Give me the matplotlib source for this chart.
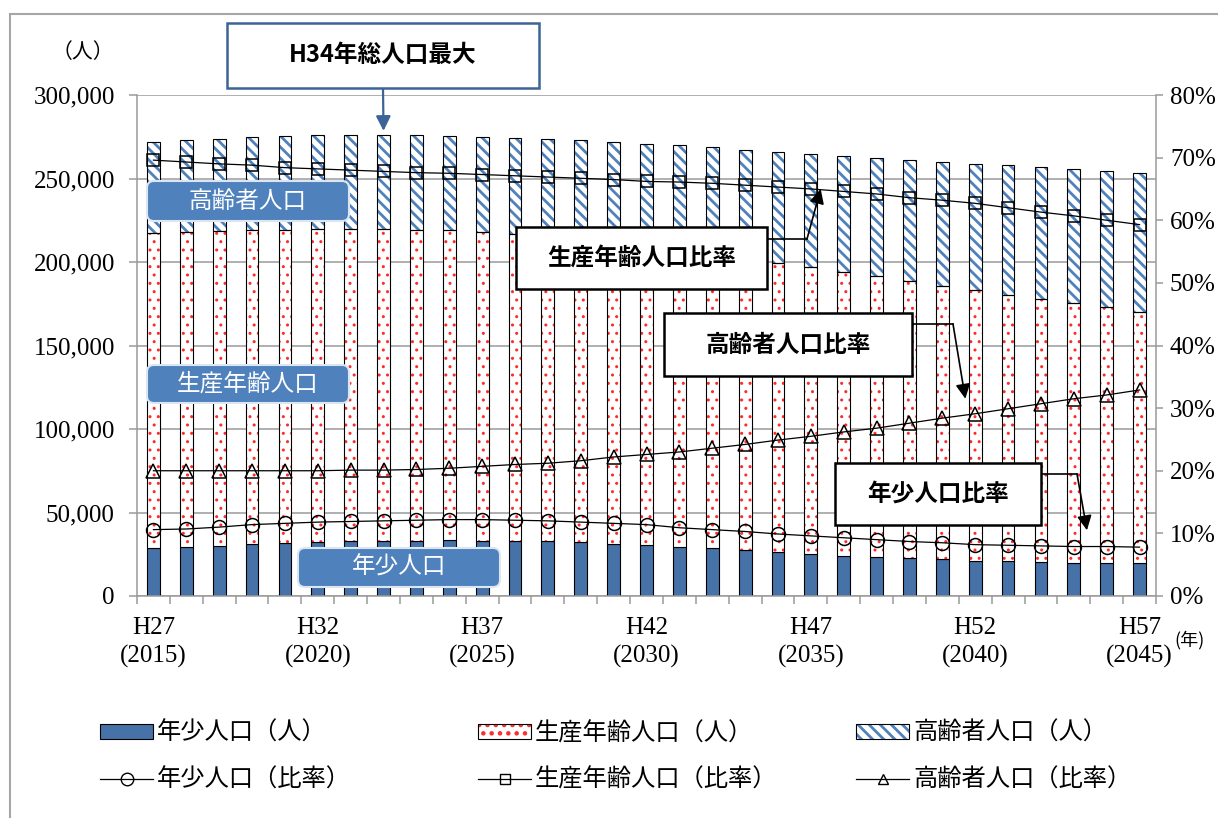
import matplotlib
matplotlib.use("Agg")
import matplotlib.pyplot as plt
from matplotlib.patches import Rectangle, FancyBboxPatch, Patch
from matplotlib.lines import Line2D
from matplotlib.transforms import IdentityTransform
from matplotlib.ticker import FixedLocator, FuncFormatter, MultipleLocator
import numpy as np

plt.rcParams['font.family'] = ['Noto Sans CJK JP', 'DejaVu Sans']
# thick stripes for the elderly bars; the dotted bars get a thinner pen below
plt.rcParams['hatch.linewidth'] = 2.0

# H27 (2015) .. H57 (2045)
heisei = list(range(27, 58))
years = list(range(2015, 2046))

# population by age group (persons)
young = [28800, 29600, 30200, 31200, 31800, 32600, 32800, 33000, 33200, 33400,
         33200, 33200, 32800, 32200, 31400, 30600, 29400, 28600, 27600, 26400,
         25200, 24200, 23400, 22600, 22000, 21200, 20800, 20400, 20000, 20000,
         19800]
working = [188600, 188400, 188400, 187800, 187600, 187200, 187000, 186800, 186200, 185600,
           184600, 183400, 182300, 181700, 180000, 178800, 178300, 176500, 174900, 173200,
           171800, 170000, 168200, 165800, 163800, 162200, 159600, 157200, 155300, 152900,
           150400]
elderly = [54200, 54800, 55200, 55800, 55800, 56000, 56100, 56200, 56500, 56400,
           57200, 57800, 58300, 58900, 60200, 61200, 62100, 63500, 64700, 66400,
           67800, 69400, 70800, 72800, 74200, 75400, 77400, 79000, 80100, 81700,
           83200]

# share of total population (%)
young_ratio = [10.6, 10.7, 11.0, 11.4, 11.6, 11.8, 11.9, 12.0, 12.1, 12.2,
               12.2, 12.1, 12.0, 11.8, 11.6, 11.4, 10.9, 10.6, 10.3, 9.9,
               9.6, 9.3, 9.0, 8.7, 8.5, 8.2, 8.1, 8.0, 7.9, 7.9, 7.8]
working_ratio = [69.6, 69.3, 69.0, 68.8, 68.4, 68.2, 68.0, 67.8, 67.6, 67.5,
                 67.3, 67.1, 66.9, 66.7, 66.5, 66.2, 66.1, 65.9, 65.6, 65.3,
                 65.0, 64.6, 64.2, 63.6, 63.2, 62.7, 62.0, 61.3, 60.7, 60.0, 59.3]
elderly_ratio = [20.0, 20.0, 20.0, 20.0, 20.0, 20.0, 20.1, 20.1, 20.2, 20.4,
                 20.7, 21.0, 21.2, 21.6, 22.2, 22.6, 23.0, 23.6, 24.2, 24.9,
                 25.5, 26.2, 26.8, 27.6, 28.4, 29.1, 29.9, 30.7, 31.5, 32.1, 32.9]

PEAK_INDEX = heisei.index(34)

C_YOUNG = '#4672A8'
C_STRIPE = '#4F81BD'
C_DOT = '#FF2A2A'
C_GRID = '#9A9A9A'
C_NAVY = '#3C6496'

W, H = 1218, 818
PX = IdentityTransform()


def thin_hatch(patches, w=1.0):
    # draw these patches' hatch with a thinner pen than the global one
    for p in patches:
        try:
            p.set_hatch_linewidth(w)
        except AttributeError:
            pass
        orig = p.draw

        def draw(renderer, _orig=orig):
            with plt.rc_context({'hatch.linewidth': w}):
                _orig(renderer)
        p.draw = draw


fig = plt.figure(figsize=(W / 100, H / 100), dpi=100)
ax = fig.add_axes([137 / W, (H - 596) / H, (1156 - 137) / W, (596 - 95) / H])
ax2 = ax.twinx()

x = np.arange(len(heisei))
young_a = np.array(young)
work_a = np.array(working)
eld_a = np.array(elderly)
bw = 0.39

# stacked bars
ax.bar(x, young_a, bw, color=C_YOUNG, edgecolor='black', linewidth=0.8, zorder=2)
b_work = ax.bar(x, work_a, bw, bottom=young_a, facecolor='white', edgecolor=C_DOT,
                hatch='..', linewidth=0, zorder=2)
thin_hatch(b_work, 1.0)
ax.bar(x, work_a, bw, bottom=young_a, fill=False, edgecolor='black', linewidth=0.8, zorder=3)
ax.bar(x, eld_a, bw, bottom=young_a + work_a, facecolor='white', edgecolor=C_STRIPE,
       hatch='\\\\\\', linewidth=0, zorder=2)
ax.bar(x, eld_a, bw, bottom=young_a + work_a, fill=False, edgecolor='black', linewidth=0.8, zorder=3)

# ratio lines on the right axis
line_kw = dict(color='black', linewidth=0.9, mfc='none', mec='black', mew=1.1)
ax2.plot(x, np.array(young_ratio) / 100, marker='o', ms=10, **line_kw)
ax2.plot(x, np.array(working_ratio) / 100, marker='s', ms=9, **line_kw)
ax2.plot(x, np.array(elderly_ratio) / 100, marker='^', ms=9.5, **line_kw)

# axes
ax.set_xlim(-0.5, len(x) - 0.5)
ax.set_ylim(0, 300000)
ax.yaxis.set_major_locator(MultipleLocator(50000))
ax.yaxis.set_major_formatter(FuncFormatter(lambda v, p: f'{v:,.0f}'))
ax.grid(axis='y', color=C_GRID, linewidth=1.1)
ax.set_axisbelow(True)

ax2.set_ylim(0, 0.8)
ax2.yaxis.set_major_locator(MultipleLocator(0.1))
ax2.yaxis.set_major_formatter(FuncFormatter(lambda v, p: f'{v * 100:.0f}%'))

ax.set_xticks(x[::5])
ax.set_xticklabels([f'H{h}\n({y})' for h, y in zip(heisei[::5], years[::5])],
                   linespacing=1.35)
ax.xaxis.set_minor_locator(FixedLocator(np.arange(-0.5, len(x), 1.0)))
ax.tick_params(axis='x', which='major', length=0, pad=15, labelsize=18,
               labelfontfamily='Liberation Serif')
ax.tick_params(axis='x', which='minor', length=6, width=1.1, color=C_GRID)
ax.tick_params(axis='y', length=6, width=1.1, color=C_GRID, pad=10, labelsize=18,
               labelfontfamily='Liberation Serif')
ax2.tick_params(axis='y', length=5, width=1.1, color=C_GRID, pad=5, labelsize=18,
                labelfontfamily='Liberation Serif')

for s in ['top', 'right']:
    ax.spines[s].set_visible(False)
for s in ['left', 'bottom']:
    ax.spines[s].set_color(C_GRID)
    ax.spines[s].set_linewidth(1.1)
for s in ['top', 'left', 'bottom']:
    ax2.spines[s].set_visible(False)
ax2.spines['right'].set_color(C_GRID)
ax2.spines['right'].set_linewidth(1.1)

# outer frame
fig.add_artist(Rectangle((10, -20), W + 40, H - 14 + 20, transform=PX, fill=False,
                         edgecolor='#A6A6A6', linewidth=1.5, zorder=-1))

# unit labels
fig.text(83, H - 52, '（人）', transform=PX, ha='center', va='center', fontsize=15)
fig.text(1189, H - 640, '(年)', transform=PX, ha='center', va='center', fontsize=13)


def callout(x0, y0, x1, y1, text, edge='black'):
    fig.add_artist(Rectangle((x0, H - y1), x1 - x0, y1 - y0, transform=PX,
                             facecolor='white', edgecolor=edge, linewidth=1.8, zorder=5))
    fig.text((x0 + x1) / 2, H - (y0 + y1) / 2, text, transform=PX, ha='center',
             va='center', fontsize=17, fontweight='bold', zorder=6)


def series_tag(x0, y0, x1, y1, text):
    fig.add_artist(FancyBboxPatch((x0, H - y1), x1 - x0, y1 - y0,
                                  boxstyle='round,pad=0,rounding_size=7', transform=PX,
                                  facecolor='#4F81BD', edgecolor='#DCE6F2', linewidth=1.5,
                                  zorder=5))
    fig.text((x0 + x1) / 2, H - (y0 + y1) / 2, text, transform=PX, ha='center',
             va='center', fontsize=17, color='white', zorder=6)


arrow_kw = dict(arrowstyle='-|>', color='black', linewidth=1.2, mutation_scale=22,
                shrinkA=0, shrinkB=0)

# peak-year callout
callout(227, 23, 539, 88, 'H34年総人口最大', edge=C_NAVY)
ax2.annotate('', xy=(PEAK_INDEX, young[PEAK_INDEX] + working[PEAK_INDEX] + elderly[PEAK_INDEX] + 2500),
             xycoords=ax.transData, xytext=(383, H - 88), textcoords='figure pixels',
             arrowprops=dict(arrow_kw, color=C_NAVY, linewidth=1.6), annotation_clip=False)

# ratio callouts with elbow leaders
leaders = [
    ((516, 227, 767, 289), '生産年齢人口比率', 239, 807, (20.3, 0.650)),
    ((664, 313, 912, 376), '高齢者人口比率', 324, 953, (24.7, 0.315)),
    ((835, 463, 1041, 525), '年少人口比率', 474, 1077, (28.4, 0.105)),
]
for (x0, y0, x1, y1), text, ly, ex, tip in leaders:
    callout(x0, y0, x1, y1, text)
    fig.add_artist(Line2D([x1, ex], [H - ly, H - ly], transform=PX, color='black',
                          linewidth=1.2, zorder=4))
    ax2.annotate('', xy=tip, xycoords='data', xytext=(ex, H - ly),
                 textcoords='figure pixels', arrowprops=arrow_kw, annotation_clip=False)

series_tag(147, 181, 349, 221, '高齢者人口')
series_tag(147, 365, 349, 403, '生産年齢人口')
series_tag(298, 548, 500, 587, '年少人口')

# legend, one column per age group
outline = dict(fill=False, edgecolor='black', linewidth=0.8)
h_young = Patch(facecolor=C_YOUNG, edgecolor='black', linewidth=0.8)
h_work = (Patch(facecolor='white', edgecolor=C_DOT, hatch='..', linewidth=0), Patch(**outline))
h_eld = (Patch(facecolor='white', edgecolor=C_STRIPE, hatch='\\\\\\', linewidth=0), Patch(**outline))
marker_kw = dict(color='black', linewidth=0.9, mfc='none', mec='black', mew=1.0)
columns = [
    (100, h_young, Line2D([], [], marker='o', ms=9, **marker_kw), '年少人口'),
    (478, h_work, Line2D([], [], marker='s', ms=7, **marker_kw), '生産年齢人口'),
    (856, h_eld, Line2D([], [], marker='^', ms=7.5, **marker_kw), '高齢者人口'),
]
for cx, hb, hl, name in columns:
    fig.legend(handles=[hb, hl], labels=[f'{name}（人）', f'{name}（比率）'],
               loc='center left', bbox_to_anchor=(cx / W, 1 - 756.5 / H),
               frameon=False, borderpad=0, borderaxespad=0, handlelength=2.2,
               handleheight=0.55, handletextpad=0.15, labelspacing=0.85, fontsize=17.5)

fig.savefig('out.png', dpi=100)
